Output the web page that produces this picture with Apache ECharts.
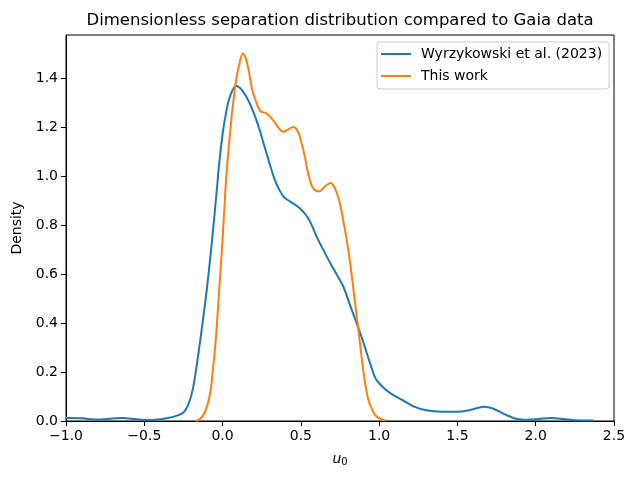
<!DOCTYPE html>
<html>
<head>
<meta charset="utf-8">
<script src="https://cdn.jsdelivr.net/npm/echarts@6/dist/echarts.min.js"></script>
<style>
  html, body { margin: 0; padding: 0; background: #fff; }
  #chart { width: 640px; height: 480px; }
</style>
</head>
<body>
<div id="chart"></div>
<script>
// Wyrzykowski et al. (2023) density curve
const blueX = [-1.0, -0.9, -0.8, -0.7, -0.64, -0.55, -0.45, -0.35, -0.3, -0.25, -0.22, -0.19, -0.16, -0.13, -0.1,
  -0.07, -0.04, -0.02, 0.0, 0.02, 0.045, 0.087, 0.15, 0.215, 0.28, 0.333, 0.365, 0.395, 0.43, 0.49,
  0.546, 0.61, 0.65, 0.7, 0.77, 0.81, 0.85, 0.9, 0.94, 0.98, 1.03, 1.08, 1.15, 1.22, 1.3, 1.4, 1.5, 1.58, 1.67, 1.73,
  1.8, 1.88, 1.95, 2.02, 2.1, 2.18, 2.25, 2.37];
const blueY = [0.012, 0.011, 0.006, 0.010, 0.012, 0.007, 0.004, 0.012, 0.02, 0.035, 0.065, 0.13, 0.25, 0.39, 0.54,
  0.72, 0.92, 1.06, 1.17, 1.25, 1.32, 1.368, 1.325, 1.23, 1.094, 0.985, 0.94, 0.912, 0.896, 0.87,
  0.828, 0.74, 0.69, 0.63, 0.55, 0.48, 0.41, 0.32, 0.24, 0.17, 0.135, 0.11, 0.085, 0.06, 0.044, 0.038, 0.038, 0.045, 0.058, 0.05,
  0.028, 0.008, 0.005, 0.008, 0.012, 0.008, 0.003, 0.002];

// This work density curve
const orangeX = [-0.17, -0.14, -0.11, -0.08, -0.06, -0.04, -0.02, -0.008, 0.008, 0.024, 0.04, 0.056, 0.072, 0.087,
  0.11, 0.13, 0.15, 0.17, 0.19, 0.216, 0.24, 0.28, 0.32, 0.365, 0.386, 0.42, 0.45, 0.482, 0.504, 0.525, 0.546, 0.578,
  0.617, 0.653, 0.69, 0.717, 0.749, 0.77, 0.79, 0.82, 0.85, 0.87, 0.9, 0.93, 0.96, 0.99, 1.04];
const orangeY = [0.0, 0.01, 0.04, 0.11, 0.22, 0.36, 0.55, 0.66, 0.83, 0.998, 1.12, 1.23, 1.32, 1.393,
  1.465, 1.50, 1.475, 1.42, 1.35, 1.30, 1.265, 1.255, 1.23, 1.19, 1.18, 1.19, 1.20, 1.18, 1.134, 1.08, 1.012, 0.95,
  0.937, 0.957, 0.971, 0.95, 0.889, 0.82, 0.75, 0.62, 0.46, 0.36, 0.2, 0.09, 0.04, 0.015, 0.002];

const seriesNames = ['Wyrzykowski et al. (2023)', 'This work'];
const yTicks = [0.0, 0.2, 0.4, 0.6, 0.8, 1.0, 1.2, 1.4];

const FONT = 'DejaVu Sans';
// matplotlib style minus sign
const fmt = (v) => v.toFixed(1).replace('-', '\u2212');

const chart = echarts.init(document.getElementById('chart'));

const option = {
  animation: false,
  backgroundColor: '#fff',
  textStyle: { fontFamily: FONT },
  title: {
    text: 'Dimensionless separation distribution compared to Gaia data',
    left: 340,
    textAlign: 'center',
    top: 12,
    padding: 0,
    textStyle: { fontFamily: FONT, fontSize: 16.5, fontWeight: 'normal', color: '#000' }
  },
  legend: {
    orient: 'vertical',
    left: 377,
    top: 42,
    padding: [4, 7, 5, 4],
    itemGap: 6,
    itemWidth: 30,
    itemHeight: 2,
    icon: 'rect',
    backgroundColor: 'rgba(255,255,255,0.8)',
    borderColor: '#cccccc',
    borderWidth: 1,
    borderRadius: 3,
    textStyle: { fontFamily: FONT, fontSize: 14, color: '#000', lineHeight: 16, padding: [0, 0, 0, 5] },
    data: seriesNames
  },
  grid: {
    left: 66, right: 26, top: 35, bottom: 59,
    show: true, borderColor: '#000', borderWidth: 1, backgroundColor: 'transparent'
  },
  xAxis: {
    type: 'value',
    min: -1.0, max: 2.5, interval: 0.5,
    name: '{i|u}{s|0}',
    nameLocation: 'middle',
    nameGap: 30,
    nameTextStyle: {
      rich: {
        i: { fontFamily: FONT, fontStyle: 'italic', fontSize: 14, color: '#000' },
        s: { fontFamily: FONT, fontSize: 10, color: '#000', verticalAlign: 'bottom', padding: [6, 0, 0, 0] }
      }
    },
    axisLine: { show: true, onZero: false, lineStyle: { color: '#000', width: 1 } },
    axisTick: { show: true, inside: false, length: 5, lineStyle: { color: '#000' } },
    axisLabel: { fontSize: 14, color: '#000', margin: 8, formatter: fmt, showMinLabel: true, showMaxLabel: true },
    splitLine: { show: false }
  },
  yAxis: {
    type: 'value',
    min: 0, max: 1.575,
    name: 'Density',
    nameLocation: 'middle',
    nameGap: 38,
    nameTextStyle: { fontSize: 14, color: '#000' },
    axisLine: { show: true, onZero: false, lineStyle: { color: '#000', width: 1 } },
    axisTick: { show: true, inside: false, length: 5, lineStyle: { color: '#000' }, customValues: yTicks },
    axisLabel: { fontSize: 14, color: '#000', margin: 8, formatter: fmt, customValues: yTicks },
    splitLine: { show: false }
  },
  series: [
    {
      name: seriesNames[0],
      type: 'line',
      data: blueX.map((x, i) => [x, blueY[i]]),
      smooth: 0.35,
      showSymbol: false,
      lineStyle: { color: '#1f77b4', width: 2 },
      itemStyle: { color: '#1f77b4' }
    },
    {
      name: seriesNames[1],
      type: 'line',
      data: orangeX.map((x, i) => [x, orangeY[i]]),
      smooth: 0.35,
      showSymbol: false,
      lineStyle: { color: '#ff7f0e', width: 2 },
      itemStyle: { color: '#ff7f0e' }
    }
  ]
};

chart.setOption(option);
</script>
</body>
</html>
